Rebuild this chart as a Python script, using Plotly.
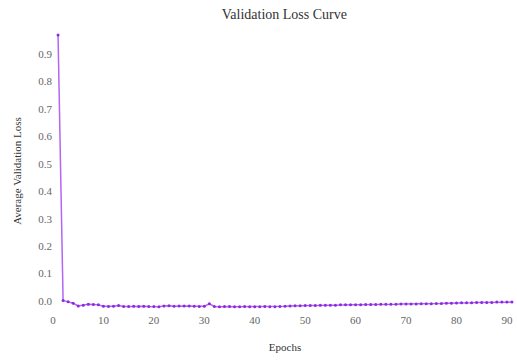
import plotly.graph_objects as go

epochs = list(range(1, 92))
val_loss = [
    0.970, 0.002, -0.003, -0.008, -0.018, -0.015, -0.012, -0.013, -0.014, -0.019,
    -0.020, -0.019, -0.016, -0.020, -0.020, -0.019, -0.020, -0.019, -0.020, -0.020,
    -0.021, -0.018, -0.017, -0.019, -0.018, -0.018, -0.018, -0.019, -0.020, -0.019,
    -0.010, -0.020, -0.021, -0.020, -0.020, -0.021, -0.021, -0.020, -0.021, -0.021,
    -0.021, -0.020, -0.021, -0.021, -0.020, -0.019, -0.018, -0.017, -0.017, -0.016,
    -0.016, -0.016, -0.015, -0.015, -0.015, -0.015, -0.014, -0.014, -0.014, -0.014,
    -0.014, -0.013, -0.013, -0.013, -0.012, -0.012, -0.012, -0.012, -0.011, -0.011,
    -0.011, -0.011, -0.010, -0.010, -0.010, -0.009, -0.009, -0.008, -0.008, -0.007,
    -0.006, -0.006, -0.006, -0.005, -0.005, -0.005, -0.005, -0.004, -0.004, -0.004,
    -0.004,
]
x_ticks = [0, 10, 20, 30, 40, 50, 60, 70, 80, 90]
y_ticks = [0.0, 0.1, 0.2, 0.3, 0.4, 0.5, 0.6, 0.7, 0.8, 0.9]

serif = "Liberation Serif, DejaVu Serif, serif"

fig = go.Figure()
fig.add_trace(go.Scatter(
    x=epochs, y=val_loss, mode="lines+markers",
    line=dict(color="#b266f5", width=1.5),
    marker=dict(color="#8a2be2", size=3),
    showlegend=False,
))
fig.update_layout(
    width=517, height=362,
    margin=dict(l=53, r=0, t=30, b=50),
    paper_bgcolor="white", plot_bgcolor="white",
    title=dict(text="Validation Loss Curve", x=0.55, xanchor="center", y=0.975, yanchor="top",
               font=dict(family=serif, size=14, color="#333333")),
    font=dict(family=serif, color="#555555", size=11),
)
fig.update_xaxes(
    range=[0, 92], tickvals=x_ticks, showgrid=False, zeroline=False, showline=False,
    title=dict(text="Epochs", font=dict(family=serif, size=11, color="#333333"), standoff=18),
    tickfont=dict(family=serif, size=11, color="#666666"),
)
fig.update_yaxes(
    range=[-0.04, 0.988], tickvals=y_ticks, tickformat=".1f", showgrid=False, zeroline=False,
    showline=False,
    title=dict(text="Average Validation Loss", font=dict(family=serif, size=11, color="#333333"), standoff=14),
    tickfont=dict(family=serif, size=11, color="#666666"),
)
fig.write_html("out.html")
